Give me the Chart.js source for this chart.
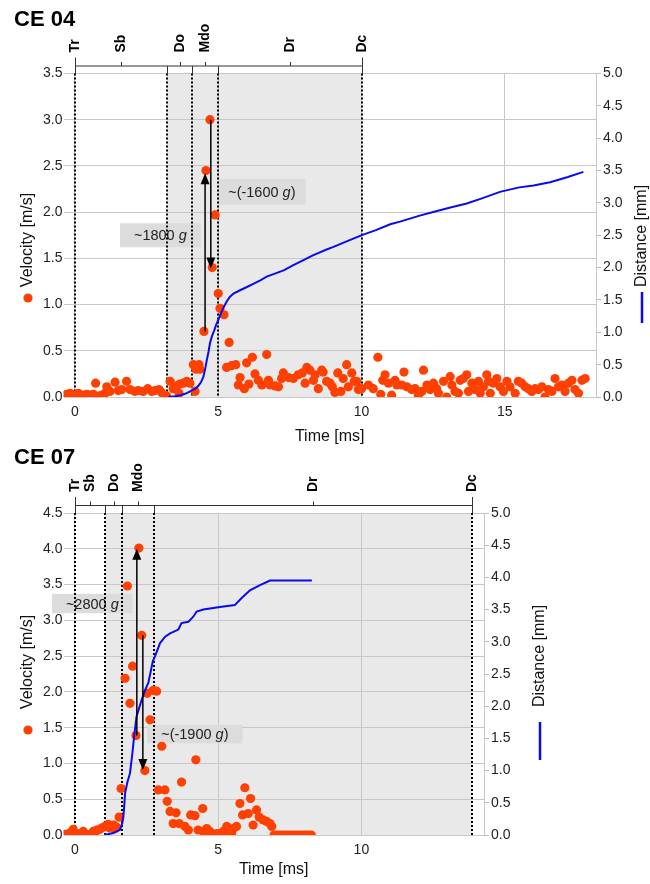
<!DOCTYPE html>
<html>
<head>
<meta charset="utf-8">
<script src="https://cdn.jsdelivr.net/npm/chart.js@4.4.0/dist/chart.umd.min.js"></script>
<style>
  body { margin: 0; background: #fff; font-family: "Liberation Sans", Arial, sans-serif; }
  .wrap { position: absolute; left: 0; width: 650px; }
  .ttl { position: absolute; left: 14px; font-weight: bold; font-size: 22px; line-height: 1; color: #000; }
</style>
</head>
<body>
<div class="wrap" style="top:0;height:446px"><canvas id="ce04"></canvas></div>
<div class="wrap" style="top:440px;height:444px"><canvas id="ce07"></canvas></div>
<div class="ttl" style="top:8px">CE 04</div>
<div class="ttl" style="top:446px">CE 07</div>
<script>
// ---- CE 04 ----
const ce04Time = [-0.29, -0.17, -0.06, 0.12, 0.23, 0.41, 0.52, 0.64, 0.72, 0.81, 0.93, 1.05, 1.11, 1.22, 1.40, 1.51, 1.63, 1.80, 1.92, 2.09,
  2.21, 2.38, 2.54, 2.68, 2.79, 2.93, 3.02, 3.20, 3.32, 3.43, 3.55, 3.63, 3.66, 3.78, 3.90, 4.01, 4.13, 4.19, 4.22, 4.33,
  4.36, 4.50, 4.57, 4.71, 4.79, 4.89, 5.00, 5.06, 5.20, 5.29, 5.38, 5.47, 5.61, 5.70, 5.76, 5.91, 5.99, 6.07, 6.19, 6.28,
  6.40, 6.52, 6.69, 6.75, 6.81, 6.98, 7.10, 7.21, 7.27, 7.45, 7.62, 7.79, 7.93, 8.03, 8.09, 8.20, 8.32, 8.38, 8.49, 8.61,
  8.66, 8.78, 8.90, 8.98, 9.07, 9.17, 9.28, 9.36, 9.48, 9.54, 9.66, 9.75, 9.83, 9.89, 10.00, 10.24, 10.41, 10.57, 10.67, 10.74,
  10.82, 10.94, 11.05, 11.17, 11.23, 11.40, 11.48, 11.58, 11.75, 11.87, 11.98, 12.10, 12.16, 12.28, 12.39, 12.51, 12.62, 12.68, 12.86, 12.97,
  13.09, 13.15, 13.26, 13.38, 13.44, 13.55, 13.67, 13.73, 13.85, 13.96, 14.08, 14.14, 14.25, 14.37, 14.43, 14.49, 14.60, 14.72, 14.83, 14.95,
  15.07, 15.18, 15.36, 15.47, 15.59, 15.71, 15.82, 15.94, 16.06, 16.17, 16.29, 16.40, 16.52, 16.64, 16.75, 16.87, 16.99, 17.10, 17.22, 17.34,
  17.45, 17.57, 17.69, 17.80];
const ce04Vel = [0.03, 0.04, 0.02, 0.04, 0.02, 0.03, 0.02, 0.03, 0.15, 0.01, 0.02, 0.04, 0.11, 0.06, 0.16, 0.07, 0.08, 0.17, 0.08, 0.06,
  0.07, 0.06, 0.09, 0.06, 0.07, 0.08, 0.05, 0.01, 0.17, 0.09, 0.12, 0.04, 0.14, 0.15, 0.17, 0.15, 0.35, 0.06, 0.30, 0.35,
  0.30, 0.71, 2.45, 3.00, 1.40, 1.97, 1.12, 0.96, 0.89, 0.32, 0.59, 0.34, 0.35, 0.13, 0.21, 0.09, 0.37, 0.14, 0.43, 0.25,
  0.18, 0.13, 0.46, 0.18, 0.13, 0.12, 0.11, 0.20, 0.26, 0.21, 0.20, 0.24, 0.26, 0.15, 0.32, 0.29, 0.18, 0.24, 0.09, 0.29,
  0.27, 0.17, 0.15, 0.11, 0.05, 0.26, 0.06, 0.20, 0.35, 0.11, 0.26, 0.17, 0.17, 0.08, 0.09, 0.13, 0.09, 0.43, 0.03, 0.18,
  0.24, 0.15, 0.02, 0.18, 0.13, 0.13, 0.27, 0.11, 0.08, 0.09, 0.02, 0.06, 0.29, 0.13, 0.08, 0.15, 0.09, 0.04, 0.17, 0.00,
  0.22, 0.13, 0.06, 0.04, 0.18, 0.20, 0.24, 0.06, 0.15, 0.08, 0.17, 0.04, 0.11, 0.24, 0.17, 0.04, 0.15, 0.20, 0.11, 0.06,
  0.17, 0.11, 0.04, 0.17, 0.15, 0.11, 0.09, 0.06, 0.09, 0.08, 0.11, 0.00, 0.08, 0.06, 0.20, 0.11, 0.13, 0.06, 0.15, 0.18,
  0.08, 0.04, 0.18, 0.20];
const ce04DistTime = [3.26, 3.5, 3.72, 3.9, 4.07, 4.2, 4.3, 4.4, 4.48, 4.55, 4.6, 4.66, 4.71, 4.78, 4.86, 4.93, 5.0, 5.1, 5.2, 5.3,
  5.41, 5.53, 5.76, 6.0, 6.22, 6.45, 6.69, 7.0, 7.3, 7.62, 7.85, 8.3, 8.78, 9.02, 9.5, 9.95, 10.06, 10.5, 11.0, 11.34,
  12.0, 12.5, 13.1, 13.67, 14.2, 14.83, 15.5, 16.0, 16.58, 17.2, 17.74];
const ce04Dist = [0, 0.01, 0.03, 0.06, 0.10, 0.13, 0.17, 0.23, 0.31, 0.45, 0.57, 0.70, 0.83, 0.94, 1.03, 1.12, 1.19, 1.30, 1.40, 1.48,
  1.55, 1.60, 1.65, 1.70, 1.75, 1.80, 1.86, 1.91, 1.96, 2.04, 2.09, 2.19, 2.28, 2.32, 2.41, 2.49, 2.51, 2.58, 2.67, 2.71,
  2.80, 2.86, 2.93, 2.99, 3.07, 3.17, 3.24, 3.27, 3.32, 3.40, 3.48];
const ce04Bounds = [0, 3.2, 4.1, 5.0, 10.0];
const ce04XTicks = [0, 5, 10, 15];

// ---- CE 07 ----
const ce07Time = [-0.35, -0.17, -0.06, 0.0, 0.06, 0.17, 0.29, 0.35, 0.41, 0.52, 0.64, 0.70, 0.76, 0.87, 0.95, 1.05, 1.10, 1.16, 1.20, 1.28,
  1.35, 1.40, 1.45, 1.54, 1.61, 1.75, 1.83, 1.92, 2.01, 2.13, 2.23, 2.33, 2.44, 2.52, 2.62, 2.73, 2.85, 2.91, 3.03, 3.14,
  3.22, 3.32, 3.43, 3.53, 3.64, 3.72, 3.84, 3.96, 4.04, 4.19, 4.22, 4.30, 4.46, 4.48, 4.60, 4.71, 4.83, 4.95, 5.06, 5.18,
  5.30, 5.35, 5.47, 5.53, 5.64, 5.76, 5.85, 5.93, 6.05, 6.13, 6.22, 6.34, 6.43, 6.57, 6.69, 6.81, 6.87, 6.95, 7.05, 7.15,
  7.25, 7.35, 7.45, 7.55, 7.65, 7.75, 7.85, 7.95, 8.05, 8.15, 8.25];
const ce07Vel = [0.01, 0.03, 0.08, 0.02, 0.00, 0.02, 0.05, 0.00, 0.01, 0.00, 0.05, 0.03, 0.07, 0.08, 0.10, 0.12, 0.12, 0.15, 0.10, 0.12,
  0.14, 0.09, 0.11, 0.25, 0.65, 2.19, 3.48, 1.84, 2.36, 1.39, 4.01, 2.79, 0.90, 1.98, 1.61, 2.02, 2.01, 0.63, 1.24, 0.63,
  0.47, 0.33, 0.16, 0.31, 0.16, 0.74, 0.12, 0.07, 0.28, 0.27, 1.05, 0.07, 0.37, 0.05, 0.09, 0.05, 0.00, 0.02, 0.02, 0.05,
  0.12, 0.05, 0.02, 0.09, 0.12, 0.44, 0.28, 0.66, 0.30, 0.51, 0.14, 0.35, 0.25, 0.21, 0.19, 0.16, 0.12, 0.00, 0.00, 0.00,
  0.00, 0.00, 0.00, 0.00, 0.00, 0.00, 0.00, 0.00, 0.00, 0.00, 0.00];
const ce07DistTime = [1.02, 1.34, 1.57, 1.65, 1.69, 1.72, 1.75, 1.83, 1.92, 2.0, 2.07, 2.15, 2.33, 2.45, 2.56, 2.65, 2.72, 2.79, 2.97, 3.15,
  3.32, 3.61, 3.72, 3.96, 4.13, 4.25, 4.48, 5.06, 5.58, 5.82, 6.11, 6.46, 6.81, 8.27];
const ce07Dist = [0, 0.03, 0.08, 0.18, 0.28, 0.45, 0.65, 0.82, 0.96, 1.25, 1.55, 1.84, 2.10, 2.25, 2.36, 2.55, 2.70, 2.77, 2.98, 3.08,
  3.13, 3.19, 3.29, 3.31, 3.39, 3.47, 3.50, 3.54, 3.57, 3.68, 3.80, 3.88, 3.95, 3.95];
const ce07Bounds = [0, 1.05, 1.65, 2.75, 13.86];
const ce07XTicks = [0, 5, 10];

const phaseLabels = ['Sb', 'Do', 'Mdo', 'Dr'];
const FONT = '"Liberation Sans", Arial, sans-serif';

function arrow(ctx, x, y0, y1) {
  const d = y1 < y0 ? -1 : 1;
  ctx.beginPath(); ctx.moveTo(x, y0); ctx.lineTo(x, y1 - d * 8); ctx.stroke();
  ctx.beginPath(); ctx.moveTo(x, y1); ctx.lineTo(x - 4.5, y1 - d * 11); ctx.lineTo(x + 4.5, y1 - d * 11);
  ctx.closePath(); ctx.fill();
}

function note(ctx, n, x, y) {
  const x0 = x.getPixelForValue(n.x0), x1 = x.getPixelForValue(n.x1);
  const y0 = y.getPixelForValue(n.y1), y1 = y.getPixelForValue(n.y0);
  ctx.fillStyle = '#dcdcdc';
  ctx.fillRect(x0, y0, x1 - x0, y1 - y0);
  const f = '14.5px ' + FONT, fi = 'italic 14.5px ' + FONT;
  ctx.font = f; const w1 = ctx.measureText(n.pre).width, w3 = ctx.measureText(n.post).width;
  ctx.font = fi; const w2 = ctx.measureText('g').width;
  let tx = (x0 + x1) / 2 - (w1 + w2 + w3) / 2, ty = (y0 + y1) / 2 + 1;
  ctx.fillStyle = '#222'; ctx.textAlign = 'left'; ctx.textBaseline = 'middle';
  ctx.font = f; ctx.fillText(n.pre, tx, ty);
  ctx.font = fi; ctx.fillText('g', tx + w1, ty);
  ctx.font = f; ctx.fillText(n.post, tx + w1 + w2, ty);
}

function annotations(spec) {
  return {
    id: 'annot',
    beforeDraw(chart) {
      const { ctx, chartArea: a, scales: { x } } = chart;
      const b = spec.bounds;
      const x0 = x.getPixelForValue(b[1]), x1 = x.getPixelForValue(b[b.length - 1]);
      ctx.save();
      ctx.fillStyle = '#e9e9e9';
      ctx.fillRect(x0, a.top, x1 - x0, a.bottom - a.top);
      ctx.restore();
    },
    beforeDatasetsDraw(chart) {
      const { ctx, chartArea: a, scales: { x, y } } = chart;
      ctx.save();
      spec.notes.forEach(n => note(ctx, n, x, y));
      ctx.strokeStyle = '#000'; ctx.lineWidth = 2; ctx.setLineDash([2, 2]);
      spec.bounds.forEach(t => {
        const px = Math.round(x.getPixelForValue(t));
        ctx.beginPath(); ctx.moveTo(px, a.top); ctx.lineTo(px, a.bottom); ctx.stroke();
      });
      ctx.restore();
    },
    afterDatasetsDraw(chart) {
      const { ctx, chartArea: a, scales: { x, y } } = chart;
      const b = spec.bounds;
      ctx.save();
      // arrows
      ctx.strokeStyle = '#000'; ctx.fillStyle = '#000'; ctx.lineWidth = 1.5;
      spec.arrows.forEach(r => arrow(ctx, x.getPixelForValue(r.x), y.getPixelForValue(r.from), y.getPixelForValue(r.to)));
      // phase axis on top
      const yl = a.top - 7.5;
      const px = b.map(t => Math.round(x.getPixelForValue(t)) + 0.5);
      ctx.strokeStyle = '#333'; ctx.lineWidth = 1;
      ctx.beginPath(); ctx.moveTo(px[0], yl); ctx.lineTo(px[px.length - 1], yl);
      ctx.moveTo(px[0], a.top - 16); ctx.lineTo(px[0], a.top);
      ctx.moveTo(px[px.length - 1], a.top - 16); ctx.lineTo(px[px.length - 1], a.top);
      for (let i = 1; i < px.length - 1; i++) { ctx.moveTo(px[i], yl); ctx.lineTo(px[i], a.top); }
      const mids = [];
      for (let i = 0; i < b.length - 1; i++) mids.push(Math.round(x.getPixelForValue((b[i] + b[i + 1]) / 2)) + 0.5);
      mids.forEach(m => { ctx.moveTo(m, yl); ctx.lineTo(m, yl - 4); });
      ctx.stroke();
      const labs = [['Tr', px[0]], ...phaseLabels.map((l, i) => [l, mids[i]]), ['Dc', px[px.length - 1]]];
      ctx.fillStyle = '#000'; ctx.font = 'bold 14px ' + FONT;
      ctx.textAlign = 'left'; ctx.textBaseline = 'middle';
      labs.forEach(([t, p]) => {
        ctx.save(); ctx.translate(p, a.top - 21); ctx.rotate(-Math.PI / 2); ctx.fillText(t, 0, 0); ctx.restore();
      });
      // axis titles with series markers
      ctx.font = '16px ' + FONT; ctx.fillStyle = '#111'; ctx.textAlign = 'center';
      ctx.save(); ctx.translate(spec.velTitle[0], spec.velTitle[1]); ctx.rotate(-Math.PI / 2); ctx.fillText('Velocity [m/s]', 0, 0); ctx.restore();
      ctx.save(); ctx.translate(spec.distTitle[0], spec.distTitle[1]); ctx.rotate(-Math.PI / 2); ctx.fillText('Distance [mm]', 0, 0); ctx.restore();
      ctx.fillStyle = '#ff4000';
      ctx.beginPath(); ctx.arc(spec.velTitle[0], spec.velTitle[2], 4.6, 0, Math.PI * 2); ctx.fill();
      ctx.strokeStyle = '#0a0af0'; ctx.lineWidth = 2.5;
      ctx.beginPath(); ctx.moveTo(spec.distTitle[0], spec.distTitle[2]); ctx.lineTo(spec.distTitle[0], spec.distTitle[3]); ctx.stroke();
      ctx.restore();
    }
  };
}

function makeChart(id, spec) {
  const tickFont = { size: 14, family: FONT };
  return new Chart(document.getElementById(id), {
    type: 'scatter',
    data: {
      datasets: [{
        type: 'line',
        data: spec.distT.map((t, i) => ({ x: t, y: spec.dist[i] })),
        yAxisID: 'y2',
        borderColor: '#0a0af0',
        borderWidth: 2,
        pointRadius: 0,
        tension: 0,
        order: 1
      }, {
        data: spec.time.map((t, i) => ({ x: t, y: spec.vel[i] })),
        yAxisID: 'y',
        backgroundColor: '#ff4000',
        borderWidth: 0,
        pointRadius: 4.6,
        order: 2
      }]
    },
    options: {
      responsive: true,
      maintainAspectRatio: false,
      animation: false,
      layout: { padding: { top: spec.top, right: spec.right, left: 0, bottom: 0 } },
      plugins: { legend: { display: false }, tooltip: { enabled: false } },
      scales: {
        x: {
          type: 'linear',
          min: spec.xmin,
          max: spec.xmax,
          afterBuildTicks: s => { s.ticks = spec.xTicks.map(v => ({ value: v })); },
          afterFit: s => { s.height = 49; },
          grid: { color: '#c8c8c8', drawTicks: false },
          border: { display: false },
          ticks: { padding: 7, font: tickFont, color: '#222' },
          title: { display: true, text: 'Time [ms]', font: { size: 16, family: FONT }, color: '#111', padding: { top: 0, bottom: spec.titlePad } }
        },
        y: {
          position: 'left',
          min: 0,
          max: spec.vmax,
          afterFit: s => { s.width = 63.5; },
          grid: { color: '#c8c8c8', drawTicks: false },
          border: { display: false },
          ticks: { stepSize: 0.5, padding: 1, font: tickFont, color: '#222', callback: v => v.toFixed(1) }
        },
        y2: {
          position: 'right',
          min: 0,
          max: 5,
          afterFit: s => { s.width = 54; },
          grid: { drawOnChartArea: false, color: '#bbbbbb', tickLength: 5 },
          border: { display: true, color: '#c8c8c8' },
          ticks: { stepSize: 0.5, padding: 2, font: tickFont, color: '#222', callback: v => v.toFixed(1) }
        }
      }
    },
    plugins: [annotations(spec)]
  });
}

makeChart('ce04', {
  time: ce04Time, vel: ce04Vel, distT: ce04DistTime, dist: ce04Dist,
  bounds: ce04Bounds, xTicks: ce04XTicks,
  xmin: -0.4, xmax: 18.18, vmax: 3.5, top: 73.5, right: 0, titlePad: 0,
  arrows: [{ x: 4.54, from: 0.71, to: 2.42 }, { x: 4.74, from: 3.0, to: 1.39 }],
  notes: [{ pre: '~1800 ', post: '', x0: 1.57, x1: 4.39, y0: 1.62, y1: 1.88 },
          { pre: '~(-1600 ', post: ')', x0: 4.99, x1: 8.05, y0: 2.08, y1: 2.36 }],
  velTitle: [28, 240, 298], distTitle: [642, 236, 292, 323]
});

makeChart('ce07', {
  time: ce07Time, vel: ce07Vel, distT: ce07DistTime, dist: ce07Dist,
  bounds: ce07Bounds, xTicks: ce07XTicks,
  xmin: -0.4, xmax: 14.28, vmax: 4.5, top: 73, right: 112, titlePad: 5,
  arrows: [{ x: 2.16, from: 1.39, to: 4.0 }, { x: 2.37, from: 2.79, to: 0.91 }],
  notes: [{ pre: '~2800 ', post: '', x0: -0.8, x1: 2.01, y0: 3.10, y1: 3.37 },
          { pre: '~(-1900 ', post: ')', x0: 2.52, x1: 5.85, y0: 1.28, y1: 1.54 }],
  velTitle: [28, 222, 290], distTitle: [540, 216, 282, 320]
});
</script>
</body>
</html>
